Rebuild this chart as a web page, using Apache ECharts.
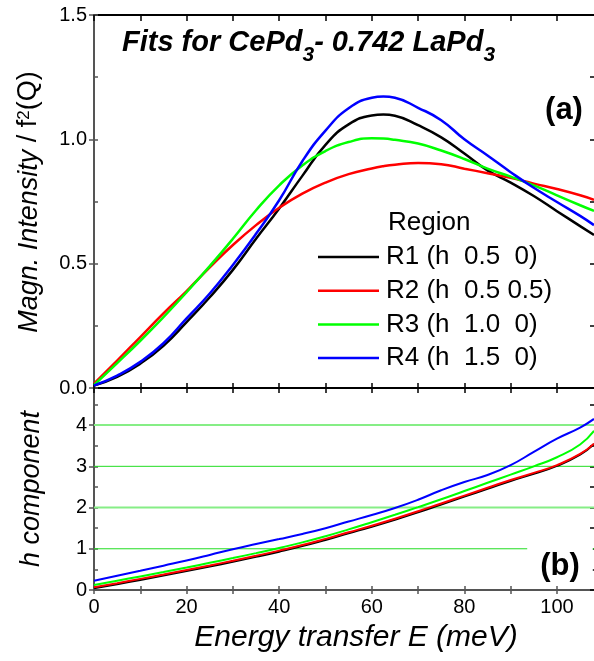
<!DOCTYPE html>
<html><head><meta charset="utf-8">
<script src="https://cdn.jsdelivr.net/npm/echarts@6/dist/echarts.min.js"></script>
<style>html,body{margin:0;padding:0;background:#fff}#c{width:594px;height:661px}</style>
</head><body><div id="c"></div>
<script>
// ---- data ----
const energyA = [0,5,10,15,20,25,30,35,40,45,50,55,60,62.5,65,70,75,80,85,90,95,100,105,108];
// panel (a): magnetic intensity / f^2(Q)
const intR1 = [0.010,0.045,0.098,0.170,0.265,0.365,0.475,0.600,0.722,0.853,0.978,1.060,1.096,1.100,1.095,1.057,1.008,0.943,0.875,0.826,0.772,0.711,0.651,0.615];
const intR2 = [0.018,0.110,0.205,0.300,0.390,0.485,0.575,0.655,0.725,0.782,0.826,0.860,0.883,0.892,0.898,0.905,0.900,0.882,0.864,0.845,0.822,0.800,0.775,0.757];
const intR3 = [0.012,0.100,0.190,0.285,0.385,0.490,0.600,0.715,0.815,0.895,0.953,0.989,1.004,1.003,0.998,0.983,0.955,0.921,0.882,0.850,0.815,0.775,0.735,0.712];
const intR4 = [0.010,0.050,0.105,0.180,0.280,0.380,0.495,0.620,0.755,0.912,1.035,1.125,1.167,1.172,1.167,1.127,1.077,1.000,0.935,0.868,0.805,0.748,0.692,0.655];
// panel (b): h component
const energyB = [0,5,10,15,20,25,30,35,40,45,50,55,60,65,70,75,80,85,90,95,100,105,108];
const hR1 = [0.040,0.140,0.245,0.350,0.460,0.570,0.685,0.805,0.930,1.065,1.215,1.375,1.535,1.705,1.885,2.075,2.265,2.455,2.645,2.820,3.010,3.285,3.540];
const hR2 = [0.065,0.165,0.270,0.375,0.485,0.595,0.710,0.830,0.955,1.090,1.240,1.400,1.560,1.730,1.910,2.100,2.290,2.480,2.670,2.840,3.030,3.300,3.550];
const hR3 = [0.120,0.225,0.330,0.435,0.545,0.660,0.775,0.895,1.020,1.155,1.305,1.470,1.645,1.825,2.010,2.200,2.400,2.600,2.800,3.000,3.220,3.530,3.860];
const hR4 = [0.225,0.345,0.465,0.590,0.715,0.850,0.990,1.115,1.235,1.360,1.500,1.660,1.820,1.990,2.190,2.420,2.620,2.790,3.030,3.350,3.670,3.940,4.150];
const seriesNames = ['R1 (h  0.5  0)', 'R2 (h  0.5 0.5)', 'R3 (h  1.0  0)', 'R4 (h  1.5  0)'];
const seriesColors = ['#000000', '#ff0000', '#00ff00', '#0000ff'];
// ticks / labels
const xTickValues = [0,10,20,30,40,50,60,70,80,90,100];
const xLabelValues = [0,20,40,60,80,100];
const topYTickValues = [0,0.25,0.5,0.75,1.0,1.25,1.5];
const topYMajorValues = [0,0.5,1.0,1.5];
const botYTickValues = [0,0.5,1,1.5,2,2.5,3,3.5,4,4.5];
const botYMajorValues = [0,1,2,3,4];
const hGuideLines = [1,2,3,4];

const FONT = '"Liberation Sans", Arial, sans-serif';
const pairs = (xs, ys) => xs.map((e, i) => [e, ys[i]]);

function axis(base, o) {
  const a = Object.assign({
    type: 'value',
    axisLine: { show: false, onZero: false },
    axisTick: { show: false },
    minorTick: { show: false },
    axisLabel: { show: false },
    splitLine: { show: false },
    minorSplitLine: { show: false }
  }, base);
  return Object.assign(a, o);
}
function ticks(values, inside, len, color) {
  return { show: true, inside: inside, length: len, customValues: values, lineStyle: { color: color || '#000', width: 1.5 } };
}
const xBase = (g, pos) => ({ gridIndex: g, position: pos, min: 0, max: 108 });

const xAxes = [
  axis(xBase(0, 'bottom'), {
    axisLine: { show: true, onZero: false, lineStyle: { color: '#000', width: 2 } },
    axisTick: ticks(xTickValues, true, 5)
  }),
  axis(xBase(0, 'bottom'), { axisTick: ticks(xTickValues, false, 5) }),
  axis(xBase(0, 'top'), {
    axisLine: { show: true, onZero: false, lineStyle: { color: '#000', width: 2 } },
    axisTick: ticks(xTickValues, true, 6)
  }),
  axis(xBase(1, 'bottom'), {
    axisLine: { show: true, onZero: false, lineStyle: { color: '#555', width: 2 } },
    axisTick: ticks(xTickValues, true, 4, '#555'),
    axisLabel: { show: true, customValues: xLabelValues, fontSize: 20, color: '#000', fontFamily: FONT, margin: 7 },
    name: 'Energy transfer E (meV)', nameLocation: 'middle', nameGap: 33,
    nameTextStyle: { fontSize: 30, fontStyle: 'italic', color: '#000', fontFamily: FONT, padding: [0, 0, 0, 24] }
  }),
  axis(xBase(1, 'bottom'), { axisTick: ticks(xTickValues, false, 4, '#555') })
];

const yAxes = [
  axis({ gridIndex: 0, position: 'left', min: 0, max: 1.5 }, {
    axisLine: { show: true, onZero: false, lineStyle: { color: '#555', width: 2 } },
    axisTick: ticks(topYTickValues, true, 4, '#555'),
    axisLabel: { show: true, customValues: topYMajorValues, formatter: (v) => Number(v).toFixed(1), fontSize: 20, color: '#000', fontFamily: FONT, margin: 7 }
  }),
  axis({ gridIndex: 0, position: 'left', min: 0, max: 1.5 }, { axisTick: ticks(topYMajorValues, false, 5, '#555') }),
  axis({ gridIndex: 0, position: 'right', min: 0, max: 1.5 }, { axisTick: ticks(topYTickValues, true, 4) }),
  axis({ gridIndex: 1, position: 'left', min: 0, max: 4.9 }, {
    axisLine: { show: true, onZero: false, lineStyle: { color: '#555', width: 2 } },
    axisTick: ticks(botYTickValues, true, 4, '#555'),
    axisLabel: { show: true, customValues: botYMajorValues, fontSize: 20, color: '#000', fontFamily: FONT, margin: 7 },
    name: 'h component', nameLocation: 'middle', nameGap: 49, nameRotate: 90,
    nameTextStyle: { fontSize: 27, fontStyle: 'italic', color: '#000', fontFamily: FONT }
  }),
  axis({ gridIndex: 1, position: 'left', min: 0, max: 4.9 }, { axisTick: ticks(botYMajorValues, false, 5, '#555') }),
  axis({ gridIndex: 1, position: 'right', min: 0, max: 4.9 }, { axisTick: ticks(botYTickValues, true, 4) })
];

const topSets = [intR1, intR2, intR3, intR4];
const botSets = [hR1, hR2, hR3, hR4];
const series = [];
topSets.forEach((d, i) => series.push({
  type: 'line', name: seriesNames[i], xAxisIndex: 0, yAxisIndex: 0, data: pairs(energyA, d),
  showSymbol: false, symbol: 'none', smooth: 0.5, z: 3,
  lineStyle: { color: seriesColors[i], width: 2.5 }, itemStyle: { color: seriesColors[i] }
}));
hGuideLines.forEach((v) => series.push({
  type: 'line', name: 'h = ' + v, xAxisIndex: 3, yAxisIndex: 3, data: [[0, v], [108, v]],
  showSymbol: false, symbol: 'none', z: 1, silent: true,
  lineStyle: { color: (v % 2 === 0) ? '#86ee86' : '#22dd22', width: (v % 2 === 0) ? 2 : 1 }
}));
botSets.forEach((d, i) => series.push({
  type: 'line', name: seriesNames[i], xAxisIndex: 3, yAxisIndex: 3, data: pairs(energyB, d),
  showSymbol: false, symbol: 'none', smooth: 0.5, z: 3,
  lineStyle: { color: seriesColors[i], width: 2 }, itemStyle: { color: seriesColors[i] }
}));

const chart = echarts.init(document.getElementById('c'), null, { renderer: 'canvas' });
chart.setOption({
  animation: false,
  backgroundColor: '#fff',
  textStyle: { fontFamily: FONT },
  grid: [
    { left: 94, top: 15, width: 500, height: 373, containLabel: false, outerBoundsMode: 'none' },
    { left: 94, top: 388, width: 500, height: 202, containLabel: false, outerBoundsMode: 'none' }
  ],
  xAxis: xAxes,
  yAxis: yAxes,
  legend: {
    orient: 'vertical', left: 318, top: 244, itemWidth: 61, itemHeight: 2.5, itemGap: 7.7,
    selectedMode: false, padding: 0,
    data: seriesNames.map((n) => ({ name: n, icon: 'rect' })),
    textStyle: { fontSize: 26, color: '#000', fontFamily: FONT, lineHeight: 26, padding: [0, 0, 0, 2] }
  },
  graphic: [
    { type: 'text', x: 122, y: 28, z: 100, style: {
      text: '{n|Fits for CePd}{s|3}{n|- 0.742 LaPd}{s|3}', align: 'left', verticalAlign: 'top', fill: '#000',
      rich: {
        n: { fontSize: 29, fontWeight: 'bold', fontStyle: 'italic', fontFamily: FONT, lineHeight: 30, verticalAlign: 'top', fill: '#000' },
        s: { fontSize: 21, fontWeight: 'bold', fontStyle: 'italic', fontFamily: FONT, lineHeight: 21, verticalAlign: 'top', padding: [17, 0, 0, 0], fill: '#000' }
      } } },
    { type: 'text', x: 29, y: 202, rotation: Math.PI / 2, z: 100, style: {
      text: '{m|Magn. Intensity}{r| / f}{s|2}{r|(Q)}', align: 'center', verticalAlign: 'middle', fill: '#000',
      rich: {
        m: { fontSize: 27, fontStyle: 'italic', fontFamily: FONT, lineHeight: 27, verticalAlign: 'bottom', fill: '#000' },
        r: { fontSize: 27, fontFamily: FONT, lineHeight: 27, verticalAlign: 'bottom', fill: '#000' },
        s: { fontSize: 17, fontFamily: FONT, lineHeight: 17, verticalAlign: 'top', padding: [0, 0, 14, 0], fill: '#000' }
      } } },
    { type: 'text', x: 388, y: 223, z: 100, style: { text: 'Region', align: 'left', verticalAlign: 'middle', fontSize: 26, fontFamily: FONT, fill: '#000' } },
    { type: 'text', x: 564, y: 110, z: 100, style: { text: '(a)', align: 'center', verticalAlign: 'middle', fontSize: 31, fontWeight: 'bold', fontFamily: FONT, fill: '#000' } },
    { type: 'text', x: 560, y: 566, z: 100, style: { text: '(b)', align: 'center', verticalAlign: 'middle', fontSize: 31, fontWeight: 'bold', fontFamily: FONT, fill: '#000', backgroundColor: '#fff', padding: [5, 13, 2, 13] } }
  ],
  series: series
});
</script></body></html>
